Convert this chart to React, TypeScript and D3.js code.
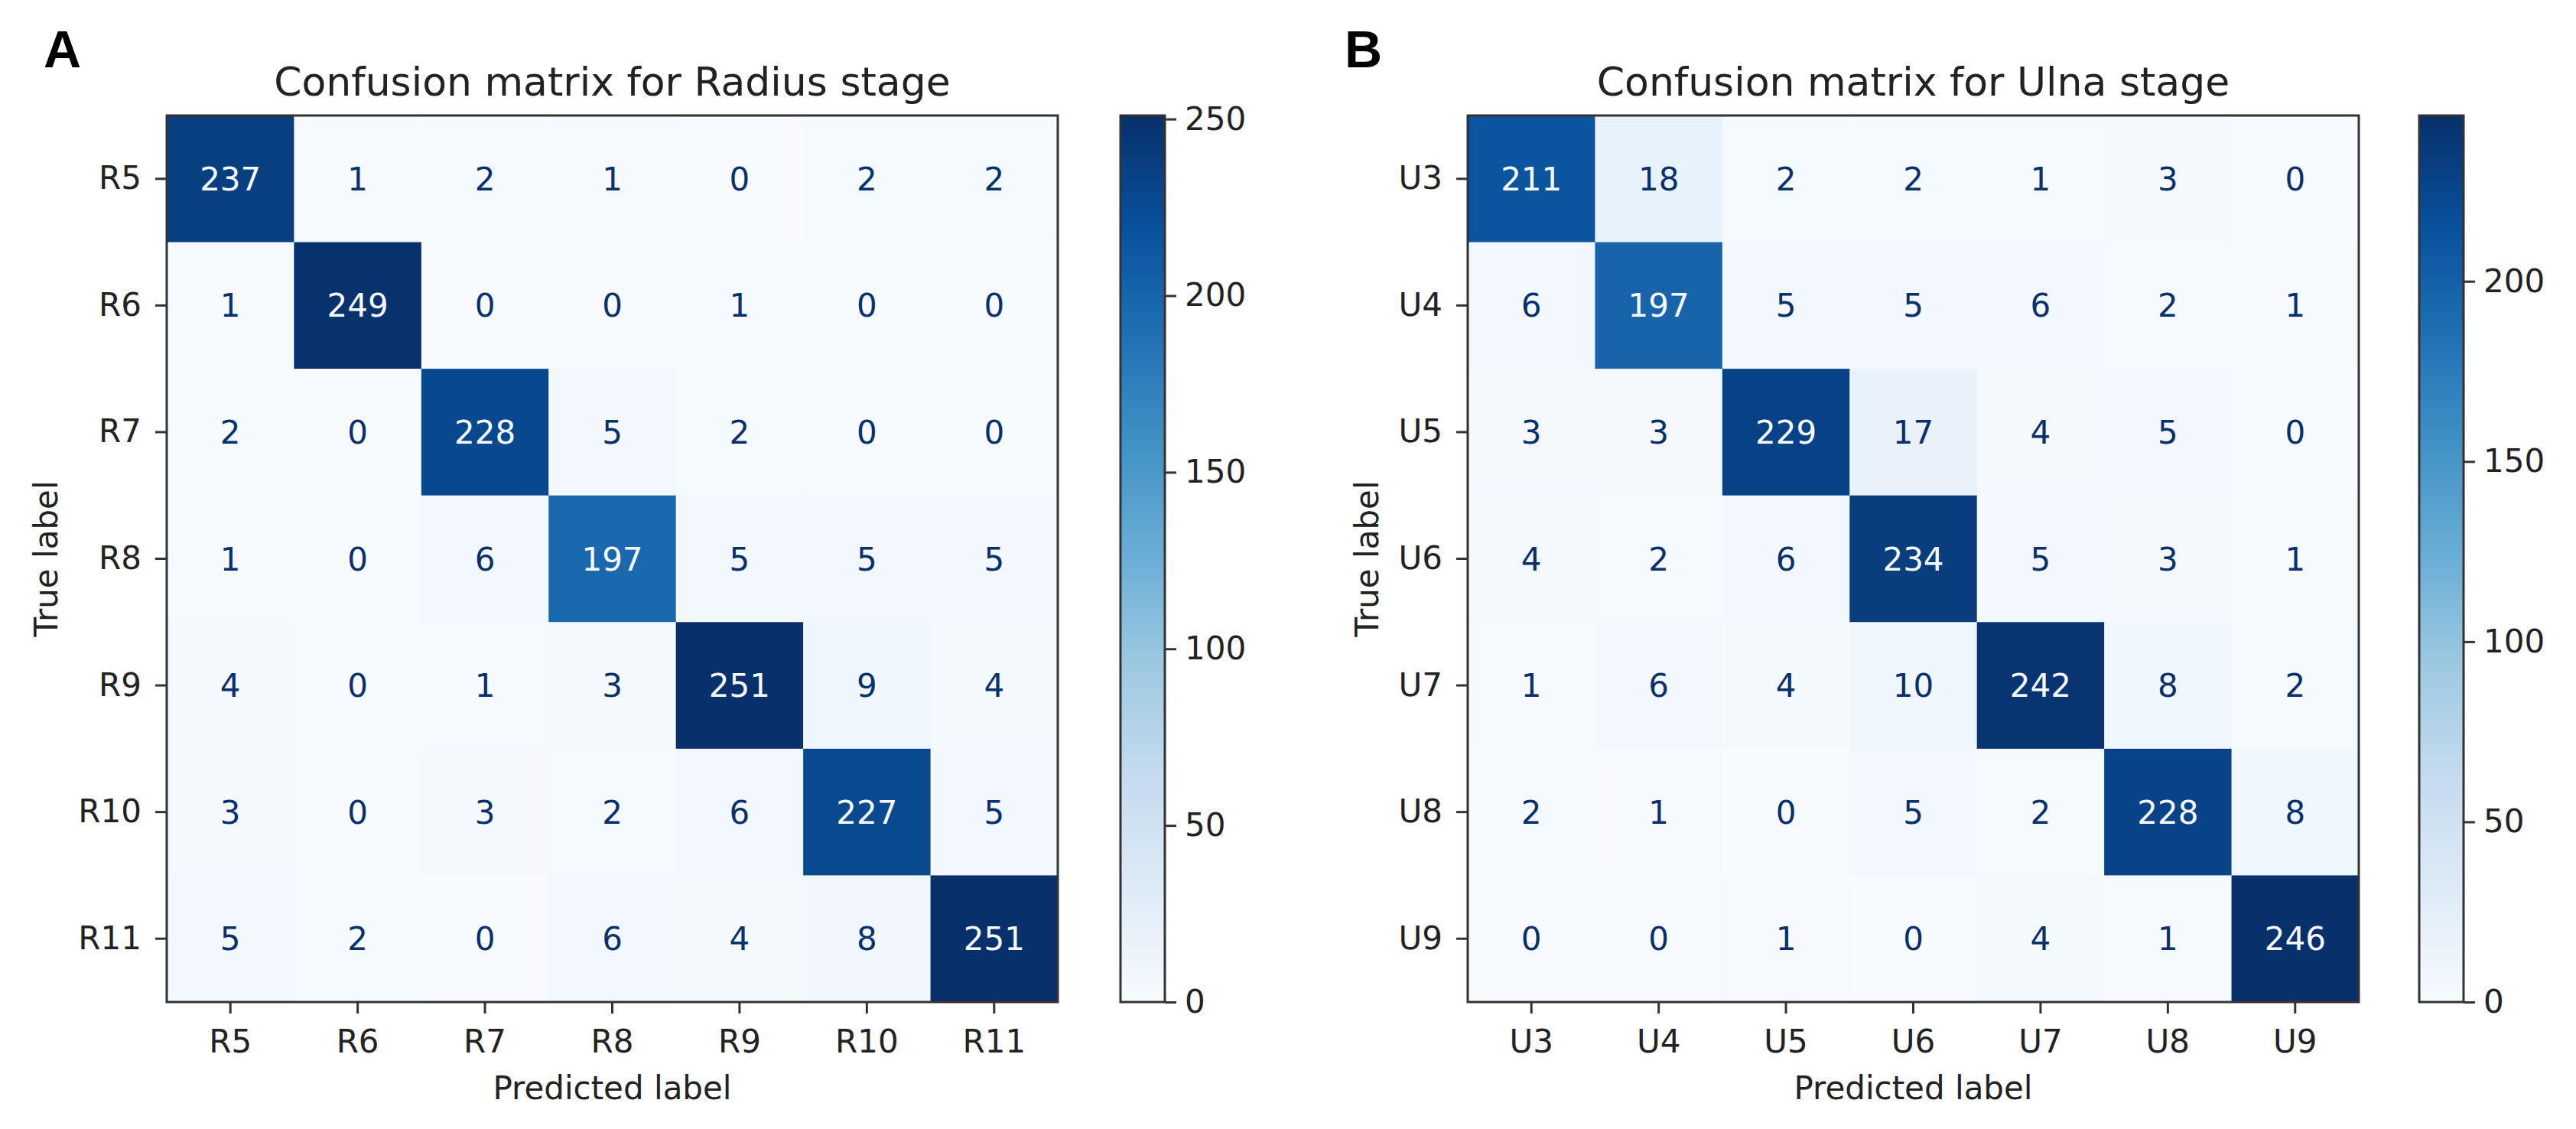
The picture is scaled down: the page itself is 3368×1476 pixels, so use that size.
import React, { useEffect, useRef } from "react";
import * as d3 from "d3";

const radiusLabels = ["R5", "R6", "R7", "R8", "R9", "R10", "R11"];
const radiusMatrix = [
  [237, 1, 2, 1, 0, 2, 2],
  [1, 249, 0, 0, 1, 0, 0],
  [2, 0, 228, 5, 2, 0, 0],
  [1, 0, 6, 197, 5, 5, 5],
  [4, 0, 1, 3, 251, 9, 4],
  [3, 0, 3, 2, 6, 227, 5],
  [5, 2, 0, 6, 4, 8, 251],
];

const ulnaLabels = ["U3", "U4", "U5", "U6", "U7", "U8", "U9"];
const ulnaMatrix = [
  [211, 18, 2, 2, 1, 3, 0],
  [6, 197, 5, 5, 6, 2, 1],
  [3, 3, 229, 17, 4, 5, 0],
  [4, 2, 6, 234, 5, 3, 1],
  [1, 6, 4, 10, 242, 8, 2],
  [2, 1, 0, 5, 2, 228, 8],
  [0, 0, 1, 0, 4, 1, 246],
];

const colorbarTicks = [0, 50, 100, 150, 200, 250];

// matplotlib "Blues"
const blues = [
  "#f7fbff",
  "#deebf7",
  "#c6dbef",
  "#9ecae1",
  "#6baed6",
  "#4292c6",
  "#2171b5",
  "#08519c",
  "#08306b",
];

const FONT = "DejaVu Sans, sans-serif";
const INK = "#333";

interface Panel {
  letter: string;
  title: string;
  labels: string[];
  matrix: number[][];
  left: number;
  cbLeft: number;
}

const panels: Panel[] = [
  {
    letter: "A",
    title: "Confusion matrix for Radius stage",
    labels: radiusLabels,
    matrix: radiusMatrix,
    left: 218,
    cbLeft: 1465,
  },
  {
    letter: "B",
    title: "Confusion matrix for Ulna stage",
    labels: ulnaLabels,
    matrix: ulnaMatrix,
    left: 1919,
    cbLeft: 3163,
  },
];

const App: React.FC = () => {
  const svgRef = useRef<SVGSVGElement | null>(null);

  useEffect(() => {
    document.body.style.margin = "0";
    const svg = d3.select(svgRef.current);
    svg.selectAll("*").remove();

    const top = 151;
    const width = 1165;
    const height = 1159;
    const cbWidth = 58;
    const tickFont = 42;

    svg.append("rect").attr("width", 3368).attr("height", 1476).attr("fill", "#fff");

    panels.forEach((p, pi) => {
      const flat = p.matrix.flat();
      const vmin = d3.min(flat)!;
      const vmax = d3.max(flat)!;
      const thresh = (vmin + vmax) / 2;

      const color = d3
        .scaleLinear<string>()
        .domain(blues.map((_, i) => vmin + ((vmax - vmin) * i) / (blues.length - 1)))
        .range(blues)
        .interpolate(d3.interpolateRgb);

      const x = d3.scaleBand().domain(p.labels).range([0, width]);
      const y = d3.scaleBand().domain(p.labels).range([0, height]);

      const g = svg.append("g").attr("transform", `translate(${p.left},${top})`);

      const cells = p.matrix.flatMap((row, r) =>
        row.map((v, c) => ({ r: p.labels[r], c: p.labels[c], v }))
      );

      g.selectAll("rect.cell")
        .data(cells)
        .enter()
        .append("rect")
        .attr("class", "cell")
        .attr("x", (d) => x(d.c)!)
        .attr("y", (d) => y(d.r)!)
        .attr("width", x.bandwidth() + 0.5)
        .attr("height", y.bandwidth() + 0.5)
        .attr("fill", (d) => color(d.v));

      g.selectAll("text.val")
        .data(cells)
        .enter()
        .append("text")
        .attr("class", "val")
        .attr("x", (d) => x(d.c)! + x.bandwidth() / 2)
        .attr("y", (d) => y(d.r)! + y.bandwidth() / 2)
        .attr("dy", "0.36em")
        .attr("text-anchor", "middle")
        .style("font-family", FONT)
        .style("font-size", `${tickFont}px`)
        .attr("fill", (d) => (d.v < thresh ? blues[8] : blues[0]))
        .text((d) => d.v);

      // spines
      g.append("rect")
        .attr("width", width)
        .attr("height", height)
        .attr("fill", "none")
        .attr("stroke", INK)
        .attr("stroke-width", 3);

      const xAxis = g
        .append("g")
        .attr("transform", `translate(0,${height})`)
        .call(d3.axisBottom(x).tickSize(15).tickPadding(21).tickSizeOuter(0));
      const yAxis = g
        .append("g")
        .call(d3.axisLeft(y).tickSize(15).tickPadding(18).tickSizeOuter(0));

      [xAxis, yAxis].forEach((ax) => {
        ax.select(".domain").remove();
        ax.selectAll(".tick line").attr("stroke", INK).attr("stroke-width", 3);
        ax.selectAll(".tick text")
          .attr("fill", "#222")
          .style("font-family", FONT)
          .style("font-size", `${tickFont}px`);
      });

      g.append("text")
        .attr("x", width / 2)
        .attr("y", -26)
        .attr("text-anchor", "middle")
        .style("font-family", FONT)
        .style("font-size", "52px")
        .attr("fill", "#222")
        .text(p.title);

      g.append("text")
        .attr("x", width / 2)
        .attr("y", 1437 - top)
        .attr("text-anchor", "middle")
        .style("font-family", FONT)
        .style("font-size", `${tickFont}px`)
        .attr("fill", "#222")
        .text("Predicted label");

      const yb = (yAxis.node() as SVGGElement).getBBox();
      g.append("text")
        .attr("transform", `translate(${yb.x - 27},${height / 2}) rotate(-90)`)
        .attr("text-anchor", "middle")
        .style("font-family", FONT)
        .style("font-size", `${tickFont}px`)
        .attr("fill", "#222")
        .text("True label");

      svg
        .append("text")
        .attr("x", p.left - 161)
        .attr("y", 88)
        .style("font-family", "Liberation Sans, Arial, sans-serif")
        .style("font-weight", "bold")
        .style("font-size", "68px")
        .attr("fill", "#000")
        .text(p.letter);

      // colorbar
      const gradId = `cb-grad-${pi}`;
      const grad = svg
        .append("defs")
        .append("linearGradient")
        .attr("id", gradId)
        .attr("x1", 0)
        .attr("y1", 1)
        .attr("x2", 0)
        .attr("y2", 0);
      grad
        .selectAll("stop")
        .data(blues)
        .enter()
        .append("stop")
        .attr("offset", (_, i) => i / (blues.length - 1))
        .attr("stop-color", (d) => d);

      const cb = svg.append("g").attr("transform", `translate(${p.cbLeft},${top})`);
      const cy = d3.scaleLinear().domain([vmin, vmax]).range([height, 0]);
      cb.append("rect")
        .attr("width", cbWidth)
        .attr("height", height)
        .attr("fill", `url(#${gradId})`)
        .attr("stroke", INK)
        .attr("stroke-width", 3);
      const cbAxis = cb
        .append("g")
        .attr("transform", `translate(${cbWidth},0)`)
        .call(
          d3
            .axisRight(cy)
            .tickValues(colorbarTicks.filter((t) => t <= vmax))
            .tickFormat(d3.format("d"))
            .tickSize(15)
            .tickPadding(11)
            .tickSizeOuter(0)
        );
      cbAxis.select(".domain").remove();
      cbAxis.selectAll(".tick line").attr("stroke", INK).attr("stroke-width", 3);
      cbAxis
        .selectAll(".tick text")
        .attr("fill", "#222")
        .style("font-family", FONT)
        .style("font-size", `${tickFont}px`);
    });
  }, []);

  return <svg ref={svgRef} width={3368} height={1476} style={{ display: "block" }} />;
};

export default App;
